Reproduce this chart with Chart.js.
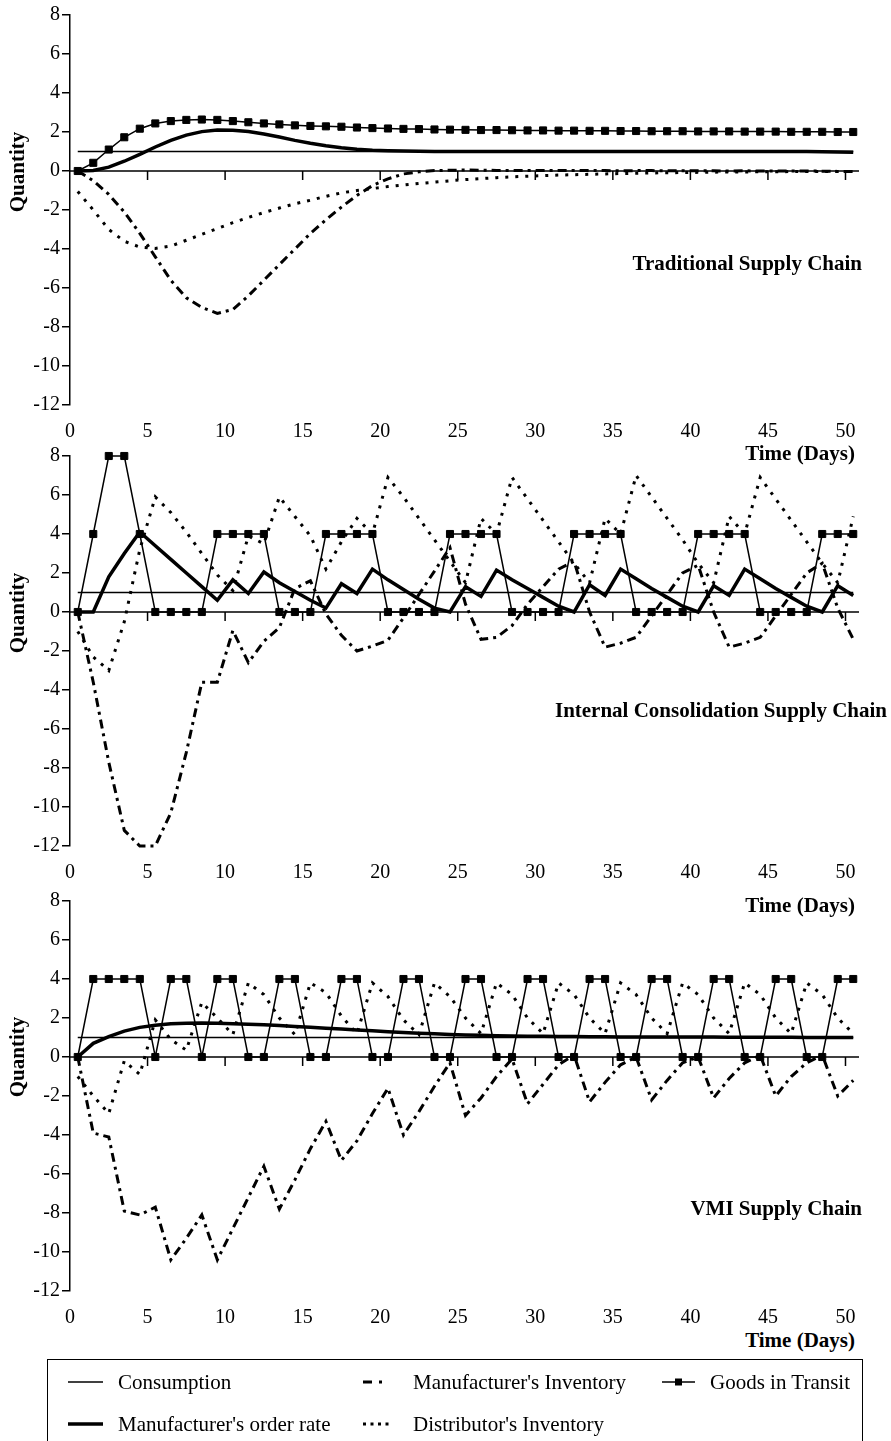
<!DOCTYPE html>
<html>
<head>
<meta charset="utf-8">
<script src="https://cdn.jsdelivr.net/npm/chart.js@4.4.1/dist/chart.umd.min.js"></script>
<style>
  body { margin: 0; background: #fff; }
  #page { position: relative; width: 891px; height: 1441px; overflow: hidden; background: #fff;
          font-family: 'Liberation Serif', 'Times New Roman', serif; color: #000; }
  canvas { position: absolute; left: 0; }
  .lbl { position: absolute; font-weight: bold; font-size: 21px; line-height: 22px; white-space: nowrap; }
  .qty { position: absolute; left: 17px; font-weight: bold; font-size: 21px; white-space: nowrap;
         transform: translate(-50%, -50%) rotate(-90deg); }
  #legend { position: absolute; left: 47px; top: 1359px; width: 814px; height: 90px; border: 1.5px solid #000; }
  .lg { position: absolute; font-size: 21px; line-height: 24px; white-space: nowrap; }
</style>
</head>
<body>
<div id="page">
  <canvas id="trad" width="891" height="440" style="top:0px"></canvas>
  <canvas id="ic" width="891" height="440" style="top:441px"></canvas>
  <canvas id="vmi" width="891" height="440" style="top:886px"></canvas>

  <div class="qty" style="top:172px">Quantity</div>
  <div class="qty" style="top:613px">Quantity</div>
  <div class="qty" style="top:1057px">Quantity</div>

  <div class="lbl" style="right:29px; top:252px">Traditional Supply Chain</div>
  <div class="lbl" style="right:4px; top:699px">Internal Consolidation Supply Chain</div>
  <div class="lbl" style="right:29px; top:1197px">VMI Supply Chain</div>

  <div class="lbl" style="right:36px; top:442px">Time (Days)</div>
  <div class="lbl" style="right:36px; top:894px">Time (Days)</div>
  <div class="lbl" style="right:36px; top:1329px">Time (Days)</div>

  <div id="legend"></div>
  <svg width="891" height="1441" style="position:absolute; left:0; top:0; pointer-events:none">
    <line x1="68" y1="1382" x2="103" y2="1382" stroke="#000" stroke-width="1.5"/>
    <line x1="68" y1="1424" x2="103" y2="1424" stroke="#000" stroke-width="3.5"/>
    <line x1="363" y1="1382" x2="389" y2="1382" stroke="#000" stroke-width="3" stroke-dasharray="9 7 3 7"/>
    <line x1="363" y1="1424" x2="389" y2="1424" stroke="#000" stroke-width="3" stroke-dasharray="3 4.5"/>
    <line x1="662" y1="1382" x2="695" y2="1382" stroke="#000" stroke-width="1.5"/>
    <rect x="675" y="1378.5" width="7" height="7" fill="#000"/>
  </svg>
  <div class="lg" style="left:118px; top:1370px">Consumption</div>
  <div class="lg" style="left:118px; top:1412px">Manufacturer's order rate</div>
  <div class="lg" style="left:413px; top:1370px">Manufacturer's Inventory</div>
  <div class="lg" style="left:413px; top:1412px">Distributor's Inventory</div>
  <div class="lg" style="left:710px; top:1370px">Goods in Transit</div>
</div>

<script>
// time of each simulated point (days)
const days = [0.5, 1.5, 2.5, 3.5, 4.5, 5.5, 6.5, 7.5, 8.5, 9.5,
  10.5, 11.5, 12.5, 13.5, 14.5, 15.5, 16.5, 17.5, 18.5, 19.5,
  20.5, 21.5, 22.5, 23.5, 24.5, 25.5, 26.5, 27.5, 28.5, 29.5,
  30.5, 31.5, 32.5, 33.5, 34.5, 35.5, 36.5, 37.5, 38.5, 39.5,
  40.5, 41.5, 42.5, 43.5, 44.5, 45.5, 46.5, 47.5, 48.5, 49.5, 50.5];

const consumption = [1, 1, 1, 1, 1, 1, 1, 1, 1, 1,
  1, 1, 1, 1, 1, 1, 1, 1, 1, 1,
  1, 1, 1, 1, 1, 1, 1, 1, 1, 1,
  1, 1, 1, 1, 1, 1, 1, 1, 1, 1,
  1, 1, 1, 1, 1, 1, 1, 1, 1, 1, 1];

// Traditional supply chain
const tradOrder = [0, 0.03, 0.2, 0.5, 0.85, 1.23, 1.57, 1.84, 2.02, 2.1,
  2.09, 2.02, 1.9, 1.74, 1.57, 1.42, 1.29, 1.19, 1.12, 1.07,
  1.04, 1.02, 1.01, 1.0, 1.0, 1.0, 1.0, 1.0, 1.0, 1.0,
  1.0, 1.0, 1.0, 1.0, 1.0, 1.0, 1.0, 1.0, 1.0, 1.0,
  1.0, 1.0, 1.0, 1.0, 1.0, 1.0, 1.0, 1.0, 0.99, 0.98, 0.96];
const tradInv = [0, -0.5, -1.2, -2.1, -3.2, -4.4, -5.6, -6.5, -7.0, -7.3,
  -7.1, -6.4, -5.6, -4.8, -4.0, -3.2, -2.5, -1.85, -1.25, -0.75,
  -0.4, -0.15, -0.04, 0.02, 0.04, 0.05, 0.04, 0.03, 0.03, 0.02,
  0.02, 0.03, 0.03, 0.02, 0.02, 0.01, 0.02, 0.02, 0.01, 0.01,
  0.01, 0.01, 0.0, 0.01, 0.0, 0.0, 0.0, 0.0, -0.01, -0.02, -0.03];
const tradDist = [-1.05, -2.0, -3.0, -3.6, -3.9, -3.97, -3.85, -3.55, -3.25, -2.95,
  -2.65, -2.38, -2.13, -1.9, -1.68, -1.5, -1.3, -1.12, -1.0, -0.9,
  -0.8, -0.72, -0.64, -0.57, -0.5, -0.44, -0.39, -0.34, -0.3, -0.27,
  -0.24, -0.21, -0.19, -0.17, -0.15, -0.13, -0.12, -0.1, -0.09, -0.08,
  -0.07, -0.06, -0.05, -0.05, -0.04, -0.04, -0.03, -0.03, -0.02, -0.02, -0.02];
const tradTransit = [0, 0.42, 1.1, 1.73, 2.17, 2.44, 2.56, 2.62, 2.64, 2.62,
  2.56, 2.5, 2.44, 2.39, 2.34, 2.31, 2.29, 2.27, 2.23, 2.2,
  2.18, 2.16, 2.15, 2.13, 2.12, 2.11, 2.1, 2.1, 2.09, 2.08,
  2.08, 2.07, 2.07, 2.06, 2.06, 2.05, 2.05, 2.04, 2.04, 2.04,
  2.03, 2.03, 2.03, 2.02, 2.02, 2.02, 2.01, 2.01, 2.01, 2.0, 2.0];

// Internal consolidation supply chain
const icOrder = [0, 0, 1.8, 3.0, 4.1, 3.4, 2.7, 2.0, 1.3, 0.6,
  1.65, 0.95, 2.05, 1.5, 1.05, 0.6, 0.2, 1.45, 0.95, 2.2,
  1.65, 1.15, 0.65, 0.2, 0.0, 1.3, 0.8, 2.15, 1.65, 1.2,
  0.75, 0.3, 0.0, 1.4, 0.85, 2.2, 1.7, 1.2, 0.75, 0.3,
  0.0, 1.35, 0.85, 2.2, 1.7, 1.2, 0.75, 0.3, 0.0, 1.35, 0.85];
const icInv = [0, -3.6, -7.7, -11.2, -12.0, -12.0, -10.3, -7.2, -3.6, -3.6,
  -0.95, -2.6, -1.5, -0.8, 1.2, 1.6, -0.1, -1.2, -2.0, -1.75,
  -1.45, -0.3, 0.9, 2.1, 3.3, 0.4, -1.4, -1.3, -0.7, 0.4,
  1.3, 2.2, 2.6, 0.0, -1.8, -1.6, -1.3, -0.2, 0.9, 2.0,
  2.4, 0.0, -1.8, -1.6, -1.3, -0.2, 0.9, 2.0, 2.5, 0.2, -1.4];
const icDist = [-1.0, -2.3, -3.0, -0.5, 3.2, 5.9, 5.1, 4.1, 3.0, 1.9,
  1.1, 3.9, 3.5, 5.9, 4.9, 3.9, 2.2, 3.6, 4.8, 4.0,
  6.9, 5.9, 4.8, 3.7, 2.6, 1.5, 4.8, 4.0, 6.9, 5.8,
  4.7, 3.6, 2.5, 1.5, 4.8, 4.0, 7.0, 5.9, 4.8, 3.7,
  2.5, 1.5, 4.9, 4.0, 6.9, 5.8, 4.7, 3.6, 2.5, 1.5, 4.9];
const icTransit = [0, 4, 8, 8, 4, 0, 0, 0, 0, 4,
  4, 4, 4, 0, 0, 0, 4, 4, 4, 4,
  0, 0, 0, 0, 4, 4, 4, 4, 0, 0,
  0, 0, 4, 4, 4, 4, 0, 0, 0, 0,
  4, 4, 4, 4, 0, 0, 0, 0, 4, 4, 4];

// VMI supply chain
const vmiOrder = [0, 0.7, 1.05, 1.33, 1.52, 1.63, 1.7, 1.73, 1.74, 1.73,
  1.71, 1.68, 1.65, 1.61, 1.57, 1.53, 1.48, 1.44, 1.39, 1.35,
  1.3, 1.26, 1.22, 1.19, 1.16, 1.13, 1.11, 1.09, 1.08, 1.07,
  1.06, 1.05, 1.05, 1.04, 1.04, 1.03, 1.03, 1.03, 1.02, 1.02,
  1.02, 1.02, 1.01, 1.01, 1.01, 1.01, 1.01, 1.0, 1.0, 1.0, 1.0];
const vmiInv = [0, -3.9, -4.1, -7.9, -8.1, -7.7, -10.4, -9.3, -8.1, -10.4,
  -8.8, -7.2, -5.6, -7.8, -6.3, -4.7, -3.3, -5.3, -4.3, -2.9,
  -1.6, -4.0, -2.8, -1.5, -0.3, -3.0, -2.1, -1.0, -0.1, -2.4,
  -1.4, -0.4, 0.1, -2.3, -1.3, -0.4, 0.0, -2.2, -1.2, -0.3,
  0.0, -2.1, -1.1, -0.3, 0.1, -2.0, -1.0, -0.3, 0.1, -2.0, -1.2];
const vmiDist = [-1.0, -2.0, -2.9, -0.2, -0.9, 1.9, 0.9, 0.35, 2.8, 2.0,
  1.15, 3.8, 3.2, 2.0, 1.15, 3.8, 3.3, 2.1, 1.2, 3.8,
  3.1, 1.9, 1.15, 3.8, 3.1, 2.0, 1.2, 3.8, 3.2, 2.0,
  1.2, 3.8, 3.2, 2.0, 1.2, 3.8, 3.2, 2.0, 1.2, 3.8,
  3.2, 2.0, 1.2, 3.8, 3.2, 2.0, 1.2, 3.8, 3.2, 2.0, 1.2];
const vmiTransit = [0, 4, 4, 4, 4, 0, 4, 4, 0, 4,
  4, 0, 0, 4, 4, 0, 0, 4, 4, 0,
  0, 4, 4, 0, 0, 4, 4, 0, 0, 4,
  4, 0, 0, 4, 4, 0, 0, 4, 4, 0,
  0, 4, 4, 0, 0, 4, 4, 0, 0, 4, 4];

const yTicks = [-12, -10, -8, -6, -4, -2, 0, 2, 4, 6, 8];
const xTicks = [0, 5, 10, 15, 20, 25, 30, 35, 40, 45, 50];

Chart.defaults.font.family = "'Liberation Serif', 'Times New Roman', serif";
Chart.defaults.font.size = 20;
Chart.defaults.color = '#000';

// axis through zero with small tick marks below it
const zeroAxis = {
  id: 'zeroAxis',
  beforeDatasetsDraw(chart) {
    const { ctx, chartArea, scales } = chart;
    const y0 = scales.y.getPixelForValue(0);
    ctx.save();
    ctx.strokeStyle = '#000';
    ctx.lineWidth = 1.5;
    ctx.beginPath();
    ctx.moveTo(chartArea.left, y0);
    ctx.lineTo(chartArea.right - 2, y0);
    scales.x.ticks.forEach(t => {
      if (t.value > 0) {
        const x = scales.x.getPixelForValue(t.value);
        ctx.moveTo(x, y0);
        ctx.lineTo(x, y0 + 9);
      }
    });
    ctx.stroke();
    ctx.restore();
  }
};

function pts(vals) {
  return days.map((d, i) => ({ x: d, y: vals[i] }));
}

function makePanel(id, order, inv, dist, transit) {
  new Chart(document.getElementById(id), {
    type: 'line',
    data: {
      datasets: [
        { label: 'Goods in Transit', data: pts(transit), borderColor: '#000', borderWidth: 1.5, clip: 8,
          pointStyle: 'rect', pointRadius: 5, pointBackgroundColor: '#000', pointBorderColor: '#000', pointBorderWidth: 1 },
        { label: "Manufacturer's order rate", data: pts(order), borderColor: '#000', borderWidth: 3.5, pointRadius: 0 },
        { label: 'Consumption', data: pts(consumption), borderColor: '#000', borderWidth: 1.5, pointRadius: 0 },
        { label: "Manufacturer's Inventory", data: pts(inv), borderColor: '#000', borderWidth: 3, clip: 4,
          borderDash: [9, 5, 3, 5], pointRadius: 0 },
        { label: "Distributor's Inventory", data: pts(dist), borderColor: '#000', borderWidth: 3,
          borderDash: [3, 7], pointRadius: 0 }
      ]
    },
    options: {
      responsive: false,
      animation: false,
      devicePixelRatio: 1,
      layout: { padding: { top: 15, right: 30, left: 0, bottom: 0 } },
      elements: { line: { tension: 0, borderCapStyle: 'butt', fill: false } },
      plugins: { legend: { display: false }, tooltip: { enabled: false } },
      scales: {
        x: {
          type: 'linear', min: 0, max: 51,
          afterBuildTicks: s => { s.ticks = xTicks.map(v => ({ value: v })); },
          afterFit: s => { s.height = 35; },
          ticks: { padding: 15, maxRotation: 0, autoSkip: false },
          grid: { display: false, drawTicks: false },
          border: { display: false }
        },
        y: {
          type: 'linear', min: -12, max: 8,
          afterBuildTicks: s => { s.ticks = yTicks.map(v => ({ value: v })); },
          afterFit: s => { s.width = 70; },
          ticks: { padding: 2 },
          grid: { drawOnChartArea: false, drawTicks: true, tickLength: 8, color: '#000', lineWidth: 1.5 },
          border: { display: true, color: '#000', width: 1.5 }
        }
      }
    },
    plugins: [zeroAxis]
  });
}

makePanel('trad', tradOrder, tradInv, tradDist, tradTransit);
makePanel('ic', icOrder, icInv, icDist, icTransit);
makePanel('vmi', vmiOrder, vmiInv, vmiDist, vmiTransit);
</script>
</body>
</html>
